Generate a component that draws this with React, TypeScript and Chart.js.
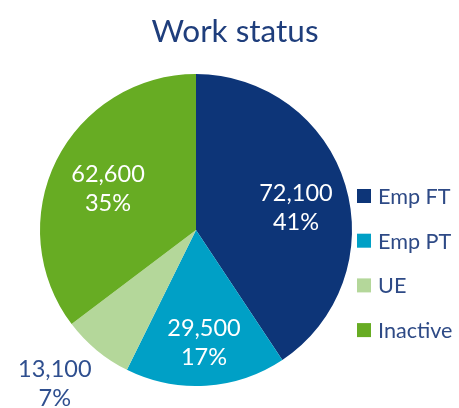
import React, { useEffect, useRef } from "react";
import { Chart, registerables } from "chart.js";

Chart.register(...registerables);

const categories = ["Emp FT", "Emp PT", "UE", "Inactive"];
const values = [72100, 29500, 13100, 62600];
const percentLabels = ["41%", "17%", "7%", "35%"];
const colors = ["#0D3578", "#00A0C6", "#B4D79A", "#67AC23"];
const labelColors = ["#FFFFFF", "#FFFFFF", "#2F4F8F", "#FFFFFF"];
const labelRadius = [0.656, 0.726, 1.34, 0.622];
const labelAngleOffsetDeg = [4.4, -0.4, 2.9, -1.5];
const titleText = "Work status";

const FONT = "Lato, 'Noto Sans', sans-serif";

const overlayPlugin = {
  id: "overlay",
  afterDatasetsDraw(chart: any) {
    const ctx = chart.ctx;
    const meta = chart.getDatasetMeta(0);
    ctx.save();
    // data labels
    meta.data.forEach((arc: any, i: number) => {
      const p = arc.getProps(["x", "y", "startAngle", "endAngle", "outerRadius"], true);
      const mid = (p.startAngle + p.endAngle) / 2 + (labelAngleOffsetDeg[i] * Math.PI) / 180;
      const r = p.outerRadius * labelRadius[i];
      const cx = p.x + Math.cos(mid) * r;
      const cy = p.y + Math.sin(mid) * r;
      ctx.fillStyle = labelColors[i];
      ctx.font = `23.5px ${FONT}`;
      ctx.textAlign = "center";
      ctx.textBaseline = "middle";
      ctx.fillText(values[i].toLocaleString("en-US"), cx, cy - 14.5);
      ctx.fillText(percentLabels[i], cx, cy + 14.5);
    });
    // title
    ctx.fillStyle = "#1F3E7C";
    ctx.font = `31.5px ${FONT}`;
    ctx.textAlign = "center";
    ctx.textBaseline = "alphabetic";
    ctx.fillText(titleText, 235, 42);
    // legend
    ctx.font = `21.6px ${FONT}`;
    ctx.textAlign = "left";
    ctx.textBaseline = "middle";
    categories.forEach((c, i) => {
      const y = 196 + i * 44.7;
      ctx.fillStyle = colors[i];
      ctx.fillRect(357, y - 7, 14, 14);
      ctx.fillStyle = "#2E4A86";
      ctx.fillText(c, 378, y + 1);
    });
    ctx.restore();
  },
};

export default function App() {
  const ref = useRef<HTMLCanvasElement | null>(null);
  useEffect(() => {
    if (!ref.current) return;
    const chart = new Chart(ref.current, {
      type: "pie",
      data: {
        labels: categories,
        datasets: [
          {
            data: values,
            backgroundColor: colors,
            borderWidth: 0,
          },
        ],
      },
      options: {
        responsive: false,
        animation: false,
        layout: { padding: { left: 40, top: 74, right: 107, bottom: 22 } },
        plugins: {
          legend: { display: false },
          title: { display: false },
          tooltip: { enabled: false },
        },
      },
      plugins: [overlayPlugin],
    });
    return () => chart.destroy();
  }, []);
  return (
    <div style={{ position: "fixed", left: 0, top: 0, width: 459, height: 408, background: "#fff" }}>
      <canvas ref={ref} width={459} height={408} style={{ display: "block" }} />
    </div>
  );
}
